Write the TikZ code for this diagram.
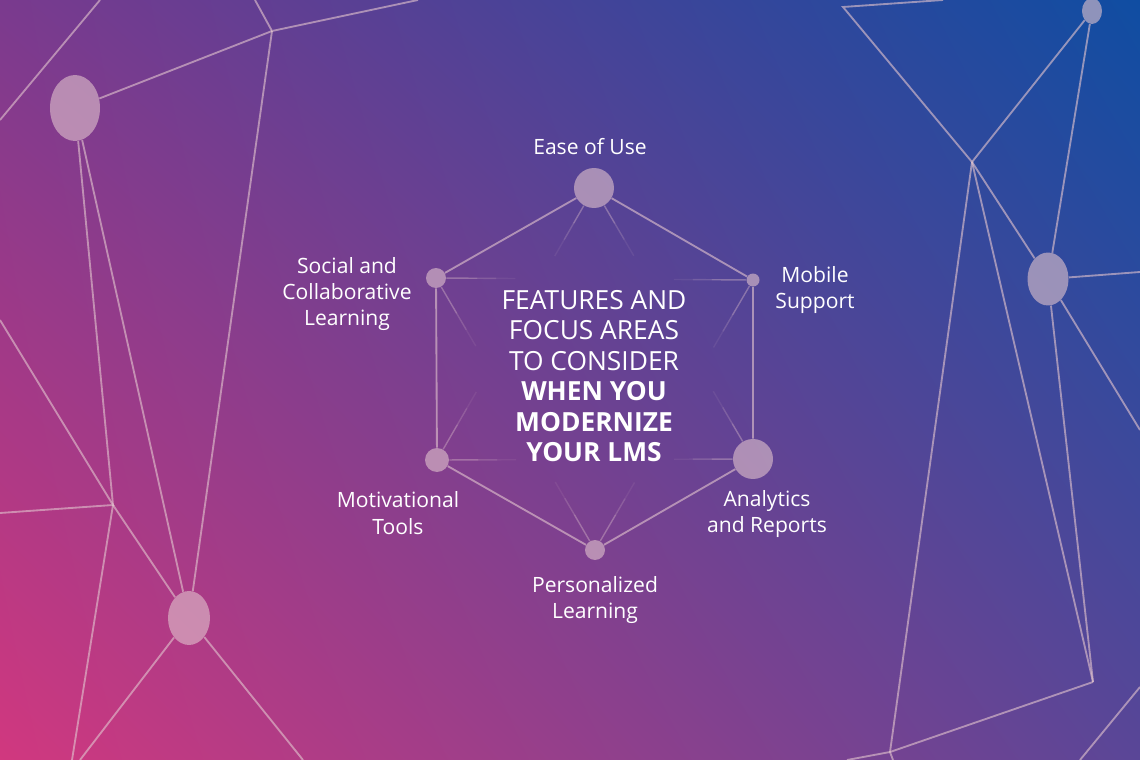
\documentclass[tikz,border=0pt]{standalone}
\usepackage{fontspec}
\setmainfont{Open Sans}
\usetikzlibrary{positioning,calc,shapes.geometric,shadings}
\definecolor{BgPurple}{HTML}{7A3A8E}
\definecolor{BgBlue}{HTML}{0F4DA2}
\definecolor{BgPink}{HTML}{D1387F}
\definecolor{BgIndigo}{HTML}{5A4697}
\definecolor{Web}{HTML}{E1C3CD}

\begin{document}
\begin{tikzpicture}[
  x=0.02cm,y=-0.02cm,
  every node/.style={text=white,align=center},
  web/.style={draw=Web,draw opacity=.62,line width=1.05pt},
  knot/.style={ellipse,fill=Web,fill opacity=.6,inner sep=0pt},
  hub/.style={circle,fill=Web,fill opacity=.6,inner sep=0pt},
  spoke/.style={draw=Web,line width=.8pt},
  lbl/.style={font=\fontsize{12}{15}\selectfont},
  headline/.style={font=\fontsize{15}{17.3}\selectfont}
]
\useasboundingbox (0,0) rectangle (1140,760);
\shade[upper left=BgPurple,upper right=BgBlue,lower left=BgPink,lower right=BgIndigo] (0,0) rectangle (1140,760);
\clip (0,0) rectangle (1140,760);

% left web
\node[knot,minimum width=1cm,minimum height=1.32cm] (leftA) at (75,108) {};
\node[knot,minimum width=.84cm,minimum height=1.08cm] (leftB) at (189,618) {};
\coordinate (leftJa) at (272,31);
\coordinate (leftJb) at (113,505);
\draw[web] (0,120) -- (100,0);
\draw[web] (255,0) -- (leftJa) -- (418,0);
\draw[web] (leftJa) -- (leftA);
\draw[web] (leftJa) -- (leftB);
\draw[web] (leftA) -- (leftJb);
\draw[web] (leftA) -- (leftB);
\draw[web] (0,320) -- (leftJb) -- (0,513);
\draw[web] (leftJb) -- (leftB);
\draw[web] (leftJb) -- (72,760);
\draw[web] (leftB) -- (80,760);
\draw[web] (leftB) -- (303,760);

% right web
\node[knot,minimum width=.4cm,minimum height=.52cm] (rightA) at (1092,11) {};
\node[knot,minimum width=.82cm,minimum height=1.06cm] (rightB) at (1048,279) {};
\coordinate (rightJa) at (972,162);
\coordinate (rightJb) at (890,752);
\coordinate (rightJc) at (1093,682);
\draw[web] (943,0) -- (843,7) -- (rightJa);
\draw[web] (rightJa) -- (rightA);
\draw[web] (rightA) -- (rightB);
\draw[web] (rightJa) -- (rightB);
\draw[web] (rightB) -- (1140,272);
\draw[web] (rightB) -- (1140,430);
\draw[web] (rightJa) -- (rightJb);
\draw[web] (rightJa) -- (rightJc);
\draw[web] (rightB) -- (rightJc);
\draw[web] (rightJc) -- (rightJb);
\draw[web] (rightJb) -- (847,760);
\draw[web] (rightJb) -- (893,760);
\draw[web] (1140,687) -- (1080,760);

% hexagon
\node[hub,minimum size=.8cm] (ease) at (594,188) {};
\node[hub,minimum size=.26cm] (mobile) at (753,280) {};
\node[hub,minimum size=.8cm] (analytics) at (753,459) {};
\node[hub,minimum size=.4cm] (personal) at (595,550) {};
\node[hub,minimum size=.48cm] (motiv) at (437,460) {};
\node[hub,minimum size=.4cm] (social) at (436,278) {};
\draw[web] (ease) -- (mobile) -- (analytics) -- (personal) -- (motiv) -- (social) -- (ease);
\foreach \a/\b in {ease/analytics,ease/motiv,mobile/personal,mobile/social,analytics/motiv,analytics/ease,
                   personal/social,personal/mobile,motiv/ease,motiv/analytics,social/mobile,social/personal}{
  \draw[spoke,draw opacity=.38] (\a) -- ($(\a)!.13!(\b)$);
  \draw[spoke,draw opacity=.22] ($(\a)!.13!(\b)$) -- ($(\a)!.19!(\b)$);
  \draw[spoke,draw opacity=.09] ($(\a)!.19!(\b)$) -- ($(\a)!.25!(\b)$);
}

\node[headline] (title) at (594,376) {FEATURES AND\\FOCUS AREAS\\TO CONSIDER\\\textbf{WHEN YOU}\\\textbf{MODERNIZE}\\\textbf{YOUR LMS}};
\node[lbl] (easelbl) at (590,147) {Ease of Use};
\node[lbl] (mobilelbl) at (815,290) {Mobile\\Support};
\node[lbl] (analyticslbl) at (767,514) {Analytics\\and Reports};
\node[lbl] (personallbl) at (595,600) {Personalized\\Learning};
\node[lbl] (motivlbl) at (398,513) {Motivational\\Tools};
\node[lbl] (sociallbl) at (347,294) {Social and\\Collaborative\\Learning};
\end{tikzpicture}
\end{document}
